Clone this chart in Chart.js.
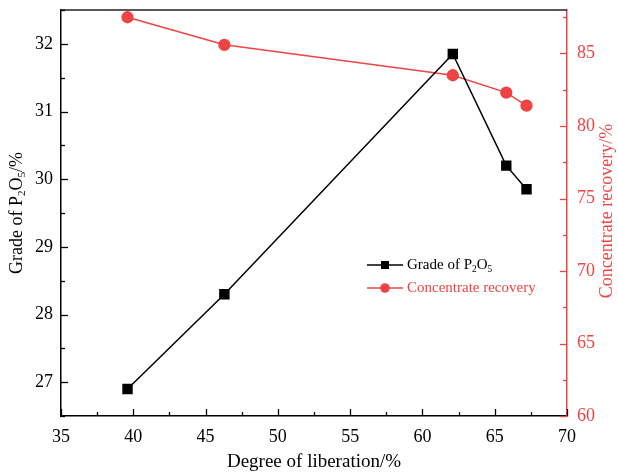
<!DOCTYPE html>
<html>
<head>
<meta charset="utf-8">
<script src="https://cdn.jsdelivr.net/npm/chart.js@4.4.1/dist/chart.umd.min.js"></script>
<style>
  html, body { margin: 0; padding: 0; background: #fff; }
  #wrap { width: 618px; height: 475px; }
</style>
</head>
<body>
<div id="wrap"><canvas id="c" width="618" height="475"></canvas></div>
<script>
// Degree of liberation (%) for each sample
const liberation = [39.6, 46.3, 62.1, 65.8, 67.2];
// Grade of P2O5 in concentrate (%)
const gradeP2O5 = [26.9, 28.3, 31.85, 30.2, 29.85];
// Concentrate recovery (%)
const recovery = [87.5, 85.6, 83.5, 82.3, 81.4];

// Tick labels on each axis
const xTickValues = [35, 40, 45, 50, 55, 60, 65, 70];
const yLeftTickValues = [27, 28, 29, 30, 31, 32];
const yRightTickValues = [60, 65, 70, 75, 80, 85];

// Axis ranges
const xRange = [35, 70];
const yLeftRange = [26.5, 32.5];
const yRightRange = [60, 88];

const RED = '#EF4444';
const FONT = '"Liberation Serif", "Times New Roman", serif';

function pts(xs, ys) { return xs.map((x, i) => ({ x: x, y: ys[i] })); }
function fixTicks(values) {
  return function (scale) { scale.ticks = values.map(v => ({ value: v })); };
}
function fitVertical(w) {
  return function (s) { s.width = w; s.paddingTop = 10; s.paddingBottom = 0; };
}

// Inward major/minor ticks, top spine, axis titles and legend
const decorations = {
  id: 'decorations',
  afterDraw(chart) {
    const ctx = chart.ctx;
    const a = chart.chartArea;
    const sx = chart.scales.x, sl = chart.scales.y, sr = chart.scales.y1;
    ctx.save();

    // top spine
    ctx.strokeStyle = '#222';
    ctx.lineWidth = 1.5;
    ctx.beginPath(); ctx.moveTo(a.left, a.top); ctx.lineTo(a.right, a.top); ctx.stroke();
    ctx.lineWidth = 1.3;

    function ticksAlong(scale, values, draw) {
      const step = values[1] - values[0];
      const lo = scale.min, hi = scale.max;
      const start = values[0] - Math.floor((values[0] - lo) / (step / 2)) * (step / 2);
      for (let v = start; v <= hi + 1e-9; v += step / 2) {
        const major = values.some(t => Math.abs(t - v) < 1e-6);
        draw(scale.getPixelForValue(v), major ? 7 : 4);
      }
    }

    ctx.strokeStyle = '#000';
    ticksAlong(sx, xTickValues, (p, len) => {
      const px = Math.round(p) + 0.5;
      ctx.beginPath(); ctx.moveTo(px, a.bottom); ctx.lineTo(px, a.bottom - len); ctx.stroke();
    });
    ticksAlong(sl, yLeftTickValues, (p, len) => {
      const py = Math.round(p) + 0.5;
      ctx.beginPath(); ctx.moveTo(a.left, py); ctx.lineTo(a.left + len, py); ctx.stroke();
    });
    ctx.strokeStyle = RED;
    ticksAlong(sr, yRightTickValues, (p, len) => {
      const py = Math.round(p) + 0.5;
      ctx.beginPath(); ctx.moveTo(a.right, py); ctx.lineTo(a.right - len, py); ctx.stroke();
    });

    // draw text runs with subscripts, centred on the origin
    function runs(parts, size, color) {
      let w = 0;
      const measured = parts.map(p => {
        const fs = p.sub ? size * 0.62 : size;
        ctx.font = fs + 'px ' + FONT;
        const mw = ctx.measureText(p.t).width;
        w += mw;
        return { t: p.t, fs: fs, w: mw, sub: p.sub };
      });
      let x = -w / 2;
      ctx.fillStyle = color;
      ctx.textBaseline = 'middle';
      ctx.textAlign = 'left';
      measured.forEach(m => {
        ctx.font = m.fs + 'px ' + FONT;
        ctx.fillText(m.t, x, m.sub ? size * 0.28 : 0);
        x += m.w;
      });
      return w;
    }
    function width(parts, size) {
      let w = 0;
      parts.forEach(p => { ctx.font = (p.sub ? size * 0.62 : size) + 'px ' + FONT; w += ctx.measureText(p.t).width; });
      return w;
    }

    // x title
    ctx.save();
    ctx.translate((a.left + a.right) / 2, 462);
    runs([{ t: 'Degree of liberation/%' }], 19, '#000');
    ctx.restore();

    // left title
    ctx.save();
    ctx.translate(17, 213);
    ctx.rotate(-Math.PI / 2);
    runs([{ t: 'Grade of P' }, { t: '2', sub: true }, { t: 'O' }, { t: '5', sub: true }, { t: '/%' }], 18, '#000');
    ctx.restore();

    // right title
    ctx.save();
    ctx.translate(607, 211);
    ctx.rotate(-Math.PI / 2);
    runs([{ t: 'Concentrate recovery/%' }], 18, RED);
    ctx.restore();

    // legend
    const ds = chart.data.datasets;
    const items = [
      { ds: ds[0], parts: [{ t: 'Grade of P' }, { t: '2', sub: true }, { t: 'O' }, { t: '5', sub: true }], y: 265 },
      { ds: ds[1], parts: [{ t: 'Concentrate recovery' }], y: 288 }
    ];
    items.forEach(it => {
      const col = it.ds.borderColor;
      ctx.strokeStyle = col;
      ctx.lineWidth = 1.5;
      ctx.beginPath(); ctx.moveTo(367, it.y); ctx.lineTo(403, it.y); ctx.stroke();
      ctx.fillStyle = col;
      if (it.ds.pointStyle === 'rect') {
        ctx.fillRect(385 - 4, it.y - 4, 8, 8);
      } else {
        ctx.beginPath(); ctx.arc(385, it.y, 4.8, 0, Math.PI * 2); ctx.fill();
      }
      ctx.save();
      ctx.translate(407 + width(it.parts, 15) / 2, it.y);
      runs(it.parts, 15, col);
      ctx.restore();
    });

    ctx.restore();
  }
};

new Chart(document.getElementById('c'), {
  type: 'scatter',
  data: {
    datasets: [
      {
        label: 'Grade of P2O5',
        data: pts(liberation, gradeP2O5),
        showLine: true,
        borderColor: '#000',
        backgroundColor: '#000',
        borderWidth: 1.5,
        pointStyle: 'rect',
        pointRadius: 6.3,
        pointHoverRadius: 6.3,
        yAxisID: 'y',
        order: 1
      },
      {
        label: 'Concentrate recovery',
        data: pts(liberation, recovery),
        showLine: true,
        borderColor: RED,
        backgroundColor: RED,
        borderWidth: 1.5,
        pointStyle: 'circle',
        pointRadius: 5.4,
        pointHoverRadius: 5.4,
        yAxisID: 'y1',
        order: 2
      }
    ]
  },
  options: {
    responsive: false,
    animation: false,
    events: [],
    layout: { padding: 0 },
    plugins: { legend: { display: false }, tooltip: { enabled: false } },
    scales: {
      x: {
        type: 'linear',
        position: 'bottom',
        min: xRange[0], max: xRange[1],
        grid: { display: false, drawTicks: false },
        border: { display: true, color: '#000', width: 1.5 },
        ticks: { color: '#000', padding: 10, font: { family: FONT, size: 18 } },
        afterBuildTicks: fixTicks(xTickValues),
        afterFit(s) { s.height = 59; s.paddingLeft = 0; s.paddingRight = 0; }
      },
      y: {
        type: 'linear',
        position: 'left',
        min: yLeftRange[0], max: yLeftRange[1],
        grid: { display: false, drawTicks: false },
        border: { display: true, color: '#000', width: 1.5 },
        ticks: { color: '#000', padding: 8, font: { family: FONT, size: 18 } },
        afterBuildTicks: fixTicks(yLeftTickValues),
        afterFit: fitVertical(61)
      },
      y1: {
        type: 'linear',
        position: 'right',
        min: yRightRange[0], max: yRightRange[1],
        grid: { display: false, drawTicks: false },
        border: { display: true, color: RED, width: 1.5 },
        ticks: { color: RED, padding: 10, font: { family: FONT, size: 18 } },
        afterBuildTicks: fixTicks(yRightTickValues),
        afterFit: fitVertical(51)
      }
    }
  },
  plugins: [decorations]
});
</script>
</body>
</html>
